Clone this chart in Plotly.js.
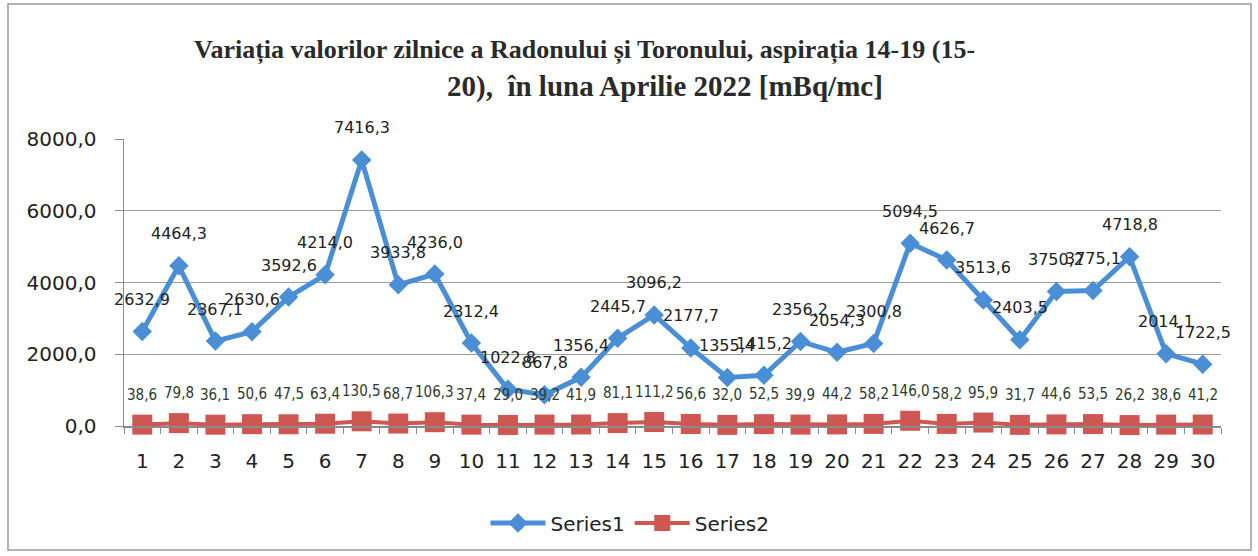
<!DOCTYPE html>
<html>
<head>
<meta charset="utf-8">
<script src="https://cdn.plot.ly/plotly-3.0.1.min.js"></script>
<style>
html,body{margin:0;padding:0;background:#fff;}
#chart{width:1258px;height:556px;}
</style>
</head>
<body>
<div id="chart"></div>
<script>
var days = ['1','2','3','4','5','6','7','8','9','10','11','12','13','14','15','16','17','18','19','20','21','22','23','24','25','26','27','28','29','30'];
var series1 = [2632.9, 4464.3, 2367.1, 2630.6, 3592.6, 4214.0, 7416.3, 3933.8, 4236.0, 2312.4,
               1022.8, 867.8, 1356.4, 2445.7, 3096.2, 2177.7, 1355.4, 1415.2, 2356.2, 2054.3,
               2300.8, 5094.5, 4626.7, 3513.6, 2403.5, 3750.2, 3775.1, 4718.8, 2014.1, 1722.5];
var series2 = [38.6, 79.8, 36.1, 50.6, 47.5, 63.4, 130.5, 68.7, 106.3, 37.4,
               29.0, 39.2, 41.9, 81.1, 111.2, 56.6, 32.0, 52.5, 39.9, 44.2,
               58.2, 146.0, 58.2, 95.9, 31.7, 44.6, 53.5, 26.2, 38.6, 41.2];
var yTicks = [0, 2000, 4000, 6000, 8000];
var titleLine1 = 'Variația valorilor zilnice a Radonului și Toronului, aspirația 14-19 (15-';
var titleLine2 = '20),  în luna Aprilie 2022 [mBq/mc]';
var seriesNames = ['Series1', 'Series2'];

function fmt(v){ return v.toFixed(1).replace('.', ','); }

var blue = '#4a8fd6';
var red = '#cf5752';

var traces = [
  {x: days, y: series1, name: seriesNames[0], type: 'scatter', mode: 'lines+markers',
   line: {color: blue, width: 5},
   marker: {symbol: 'diamond', size: 15, color: blue},
   cliponaxis: false},
  {x: days, y: series2, name: seriesNames[1], type: 'scatter', mode: 'lines+markers',
   line: {color: red, width: 4},
   marker: {symbol: 'square', size: 20, color: red},
   cliponaxis: false}
];

var annotations = [];
days.forEach(function(d, i){
  annotations.push({x: i, y: series1[i], xref: 'x', yref: 'y', text: fmt(series1[i]),
    showarrow: false, yshift: 32, font: {family: 'DejaVu Sans', size: 16, color: '#222'}});
  annotations.push({x: i, y: series2[i], xref: 'x', yref: 'y', text: fmt(series2[i]),
    showarrow: false, yshift: 30, font: {family: 'DejaVu Sans Condensed, DejaVu Sans', size: 15, color: '#2f3a30'}});
});
// title lines
annotations.push({xref: 'paper', yref: 'paper', x: (584-124)/1097, y: (426-50)/287, xanchor: 'center', yanchor: 'middle',
  text: '<b>' + titleLine1 + '</b>', showarrow: false,
  font: {family: 'Liberation Serif', size: 26, color: '#2a2a2a'}});
annotations.push({xref: 'paper', yref: 'paper', x: (665-124)/1097, y: (426-87)/287, xanchor: 'center', yanchor: 'middle',
  text: '<b>' + titleLine2.replace('  ', ' &nbsp;') + '</b>', showarrow: false,
  font: {family: 'Liberation Serif', size: 29, color: '#2a2a2a'}});

var layout = {
  width: 1258, height: 556,
  margin: {l: 124, r: 37, t: 139, b: 130},
  paper_bgcolor: '#fff', plot_bgcolor: '#fff',
  separators: ',.',
  showlegend: true,
  legend: {orientation: 'h', x: (630-124)/1097, xanchor: 'center', y: (426-523)/287, yanchor: 'middle',
    font: {family: 'DejaVu Sans', size: 20, color: '#222'}, itemwidth: 55, traceorder: 'normal'},
  xaxis: {type: 'category', categoryorder: 'array', categoryarray: days,
    range: [-0.5, days.length - 0.5], autorange: false,
    showline: true, linecolor: '#8a8a8a', linewidth: 1.5,
    ticks: 'outside', tickson: 'boundaries', ticklen: 6, tickcolor: '#8a8a8a',
    tickangle: 0,
    showgrid: false, zeroline: false, ticklabelstandoff: 16,
    tickfont: {family: 'DejaVu Sans', size: 20, color: '#222'}},
  yaxis: {range: [0, 8000], autorange: false, tickvals: yTicks, tickformat: '.1f',
    showline: true, linecolor: '#8a8a8a', linewidth: 1.5,
    ticks: 'outside', ticklen: 8, tickcolor: '#8a8a8a',
    showgrid: true, gridcolor: '#9a9a9a', gridwidth: 1, zeroline: false,
    ticklabelstandoff: 14,
    tickfont: {family: 'DejaVu Sans', size: 20, color: '#222'}},
  annotations: annotations,
  shapes: [
    {type: 'rect', xref: 'paper', yref: 'paper',
     x0: (8-124)/1097, x1: (1251-124)/1097, y0: (426-550)/287, y1: (426-4)/287,
     line: {color: '#9a9a9a', width: 1.5}, fillcolor: 'rgba(0,0,0,0)', layer: 'below'}
  ]
};

Plotly.newPlot('chart', traces, layout, {displayModeBar: false, staticPlot: true});
</script>
</body>
</html>
